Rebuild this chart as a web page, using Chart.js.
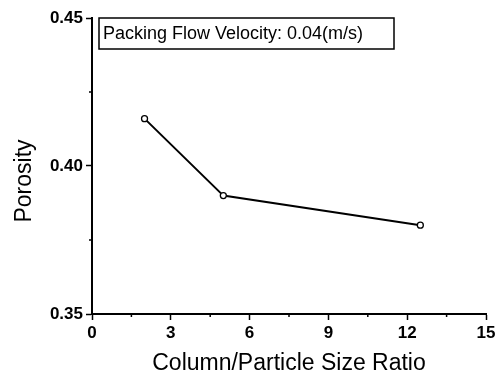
<!DOCTYPE html>
<html>
<head>
<meta charset="utf-8">
<script src="https://cdn.jsdelivr.net/npm/chart.js@4.4.1/dist/chart.umd.min.js"></script>
<style>
  html, body { margin: 0; padding: 0; background: #fff; }
  #wrap { width: 503px; height: 381px; position: relative; }
</style>
</head>
<body>
<div id="wrap"><canvas id="porosityChart"></canvas></div>
<script>
// data
const sizeRatio = [2, 5, 12.5];
const porosity = [0.416, 0.390, 0.380];
const xMinorTicks = [1.5, 4.5, 7.5, 10.5, 13.5];
const yMinorTicks = [0.375, 0.425];
const boxLabel = "Packing Flow Velocity: 0.04(m/s)";
const yTitle = "Porosity";

const tickFont = { family: "'Liberation Sans', Arial, sans-serif", size: 17, weight: "bold" };
const titleFont = { family: "'Liberation Sans', Arial, sans-serif", size: 23 };

// small ticks between the labelled ones
const minorTicks = {
  id: "minorTicks",
  afterDraw(chart) {
    const ctx = chart.ctx;
    const x = chart.scales.x, y = chart.scales.y;
    ctx.save();
    ctx.strokeStyle = "#000";
    ctx.lineWidth = 1.5;
    ctx.beginPath();
    xMinorTicks.forEach(v => {
      const px = x.getPixelForValue(v);
      ctx.moveTo(px, x.top);
      ctx.lineTo(px, x.top + 3);
    });
    yMinorTicks.forEach(v => {
      const py = y.getPixelForValue(v);
      ctx.moveTo(y.right, py);
      ctx.lineTo(y.right - 3, py);
    });
    ctx.stroke();
    ctx.restore();
  }
};

// boxed label in the upper left of the plot, and the y title (sits a bit low in the original)
const labels = {
  id: "labels",
  afterDraw(chart) {
    const ctx = chart.ctx;
    const area = chart.chartArea;
    const left = area.left + 7, top = area.top;
    ctx.save();
    ctx.font = "18px 'Liberation Sans', Arial, sans-serif";
    const w = 295;
    ctx.fillStyle = "#fff";
    ctx.fillRect(left, top, w, 31);
    ctx.strokeStyle = "#000";
    ctx.lineWidth = 1.5;
    ctx.strokeRect(left, top, w, 31);
    ctx.fillStyle = "#000";
    ctx.textBaseline = "middle";
    ctx.fillText(boxLabel, left + 4, top + 16);

    const y = chart.scales.y;
    ctx.font = "23px 'Liberation Sans', Arial, sans-serif";
    ctx.translate(25, (y.top + y.bottom) / 2 + 15);
    ctx.rotate(-Math.PI / 2);
    ctx.textAlign = "center";
    ctx.fillText(yTitle, 0, 0);
    ctx.restore();
  }
};

const ctx = document.getElementById("porosityChart").getContext("2d");
new Chart(ctx, {
  type: "line",
  data: {
    datasets: [{
      data: sizeRatio.map((v, i) => ({ x: v, y: porosity[i] })),
      borderColor: "#000",
      borderWidth: 2,
      pointRadius: 3,
      pointBackgroundColor: "#fff",
      pointBorderColor: "#000",
      pointBorderWidth: 1.3,
      tension: 0
    }]
  },
  options: {
    responsive: true,
    maintainAspectRatio: false,
    animation: false,
    layout: { padding: { left: 0, right: 17, top: 18, bottom: 0 } },
    plugins: { legend: { display: false }, tooltip: { enabled: false } },
    scales: {
      x: {
        type: "linear",
        min: 0,
        max: 15,
        afterFit: s => { s.height = 67; },
        ticks: { stepSize: 3, color: "#000", font: tickFont, padding: 3, maxRotation: 0 },
        grid: { drawOnChartArea: false, tickLength: 6, tickColor: "#000", tickWidth: 1.5 },
        border: { color: "#000", width: 2 },
        title: { display: true, text: "Column/Particle Size Ratio", color: "#000", font: titleFont, padding: { top: 0, bottom: 4 } }
      },
      y: {
        type: "linear",
        min: 0.35,
        max: 0.45,
        afterFit: s => { s.width = 92; },
        ticks: { stepSize: 0.05, color: "#000", font: tickFont, padding: 3, callback: v => v.toFixed(2) },
        grid: { drawOnChartArea: false, tickLength: 6, tickColor: "#000", tickWidth: 1.5 },
        border: { color: "#000", width: 2 },
        title: { display: false }
      }
    }
  },
  plugins: [minorTicks, labels]
});
</script>
</body>
</html>
